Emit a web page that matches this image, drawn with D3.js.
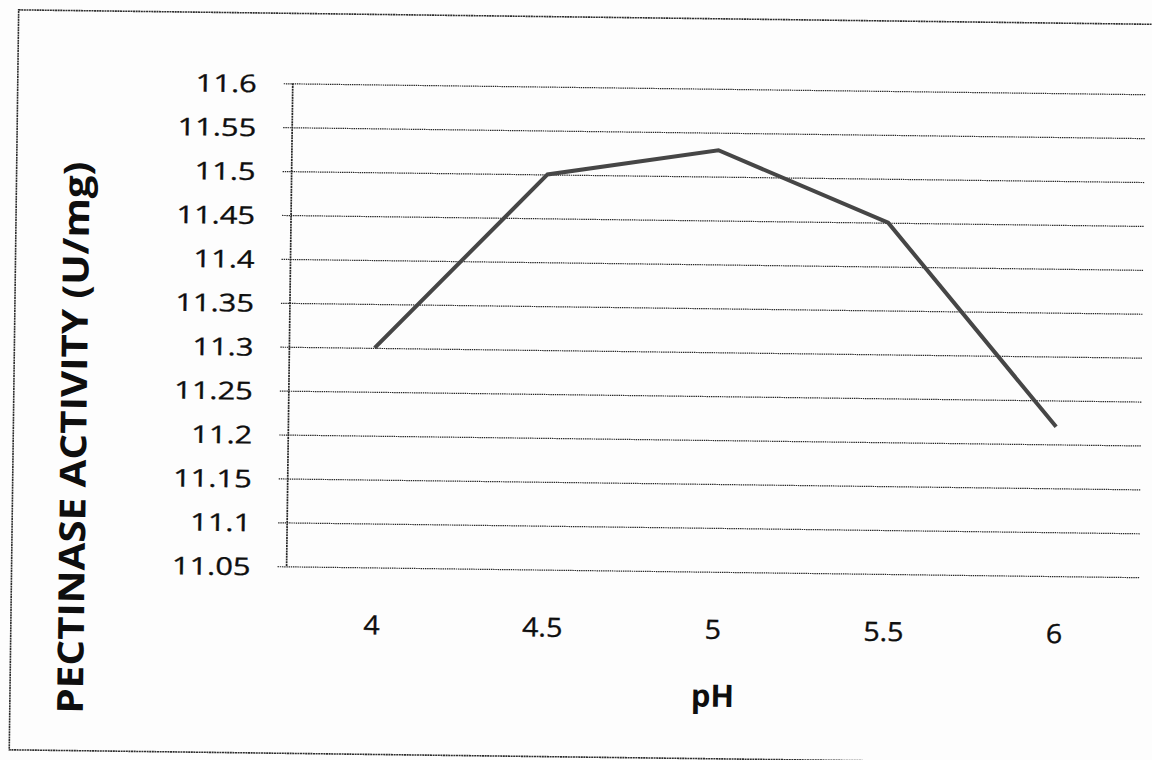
<html>
  <head>
    <style>
      body {
        margin: 0;
        background: #fdfdfd;
      }
      svg text {
        font-family: 'Open Sans', 'DejaVu Sans', sans-serif;
        fill: #0e0e0e;
      }
      .axis .domain {
        display: none;
      }
      .axis .tick text {
        stroke: #0e0e0e;
        stroke-width: 0.35;
      }
    </style>
  </head>
  <body>
    <div id="container"></div>
    <script src="https://d3js.org/d3.v7.min.js"></script>
    <script>

    // chart data
    var phLevels = ["4", "4.5", "5", "5.5", "6"];
    var activity = [11.30, 11.50, 11.53, 11.45, 11.22];
    var yTicks = [11.05, 11.1, 11.15, 11.2, 11.25, 11.3, 11.35, 11.4, 11.45, 11.5, 11.55, 11.6];
    var yTickLabels = ["11.05", "11.1", "11.15", "11.2", "11.25", "11.3", "11.35", "11.4", "11.45", "11.5", "11.55", "11.6"];
    var xTitle = "pH";
    var yTitle = "PECTINASE ACTIVITY (U/mg)";

    var W = 1152, H = 760;
    var margin = {top: 87, right: 10, bottom: 190, left: 289},
        width = 1142 - margin.left,
        height = H - margin.top - margin.bottom;

    var svg = d3.select("#container")
                .append("svg")
                .attr("width", W)
                .attr("height", H);

    // the scan is slightly rotated
    var page = svg.append("g").attr("transform", "rotate(0.73," + W / 2 + "," + H / 2 + ")");

    page.append("rect")
        .attr("x", 14)
        .attr("y", 17)
        .attr("width", 1300)
        .attr("height", 740)
        .attr("fill", "none")
        .attr("stroke", "#2e2e2e")
        .attr("stroke-width", 1.6)
        .attr("stroke-dasharray", "2,0.6");

    var g = page.append("g").attr("transform", "translate(" + margin.left + "," + margin.top + ")");

    var x = d3.scalePoint()
        .domain(phLevels)
        .range([0, width])
        .padding(0.5);

    var y = d3.scaleLinear()
        .domain([11.05, 11.6])
        .range([height, 0]);

    // y axis with gridlines
    var yAxis = g.append("g")
        .attr("class", "axis")
        .call(d3.axisLeft(y)
          .tickValues(yTicks)
          .tickSize(-width)
          .tickFormat(function(d, i) { return yTickLabels[i]; }));

    yAxis.selectAll(".tick line")
        .attr("x1", -9)
        .attr("stroke", "#262626")
        .attr("stroke-width", 1.2)
        .attr("stroke-dasharray", "1.4,0.8");

    yAxis.selectAll(".tick text")
        .attr("x", 0)
        .attr("dy", "0.36em")
        .attr("font-size", 24.5)
        .attr("text-anchor", "end")
        .attr("transform", "translate(-36,0) scale(1.26,1)");

    g.append("line")
        .attr("x1", 0)
        .attr("x2", 0)
        .attr("y1", 0)
        .attr("y2", height)
        .attr("stroke", "#262626")
        .attr("stroke-width", 1.7)
        .attr("stroke-dasharray", "2,0.7");

    // x axis labels
    var xAxis = g.append("g")
        .attr("class", "axis")
        .attr("transform", "translate(0," + height + ")")
        .call(d3.axisBottom(x).tickSize(0));

    xAxis.selectAll(".tick text")
        .attr("y", 0)
        .attr("dy", 0)
        .attr("font-size", 26.5)
        .attr("text-anchor", "middle")
        .attr("transform", "translate(0,67) scale(1.08,1)");

    // the series
    var line = d3.line()
        .x(function(d, i) { return x(phLevels[i]); })
        .y(function(d) { return y(d); });

    g.append("path")
        .datum(activity)
        .attr("fill", "none")
        .attr("stroke", "#464646")
        .attr("stroke-width", 4)
        .attr("stroke-linejoin", "miter")
        .attr("d", line);

    // titles
    g.append("text")
        .attr("x", width / 2 + 1)
        .attr("y", height + 135)
        .attr("font-size", 31)
        .attr("font-weight", "bold")
        .attr("text-anchor", "middle")
        .text(xTitle);

    page.append("text")
        .attr("transform", "translate(87,444) rotate(-90)")
        .attr("font-size", 36)
        .attr("font-weight", "bold")
        .attr("text-anchor", "middle")
        .attr("textLength", 552)
        .attr("lengthAdjust", "spacingAndGlyphs")
        .text(yTitle);

    </script>
  </body>
</html>
